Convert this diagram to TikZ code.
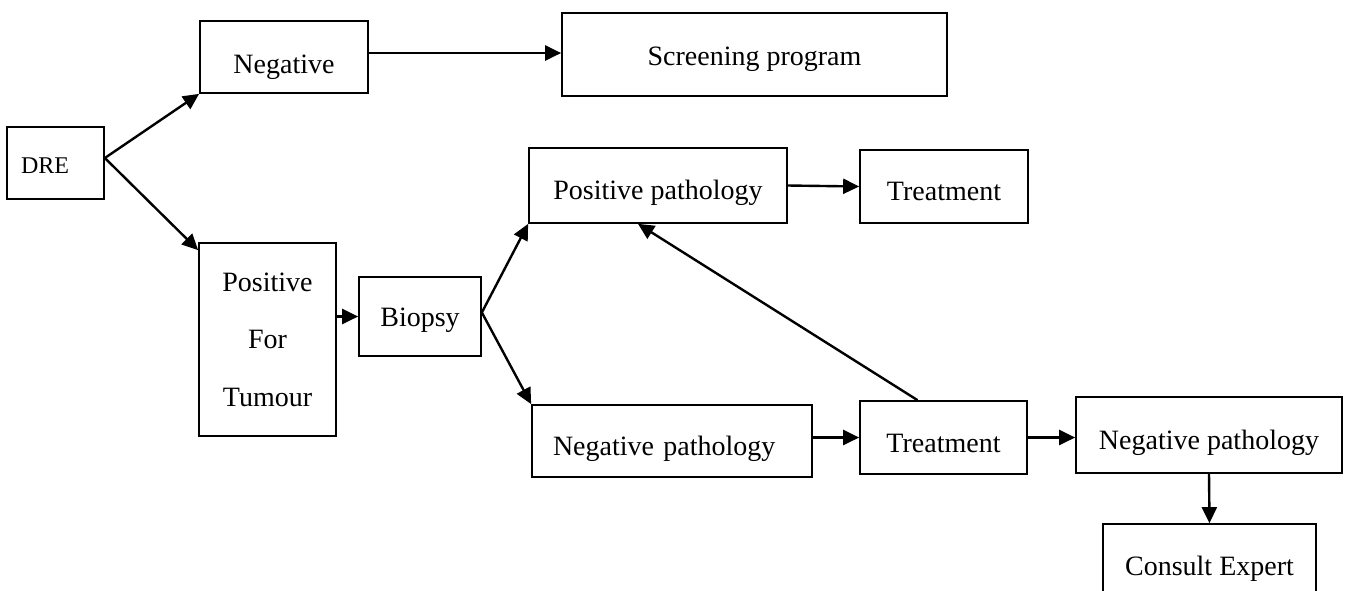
\documentclass[tikz,border=0pt]{standalone}
\usepackage{fontspec}
\setmainfont{Liberation Serif}
\usetikzlibrary{arrows.meta,calc}
\begin{document}
\begin{tikzpicture}[x=1pt,y=-1pt,
  frame/.style={draw, line width=1.7pt, inner sep=0pt,
    font=\fontsize{28}{34}\selectfont},
  box/.style={frame, text depth=8pt, text height=#1},
  box/.default=36pt,
  flow/.style={line width=2.4pt, -{Triangle[length=16pt,width=15pt]}}]
\useasboundingbox (0,0) rectangle (1347,590);
\clip (0,0) rectangle (1347,590);

% boxes
\node[box=28pt, font=\fontsize{24}{29}\selectfont, inner xsep=14pt,
      text width=69pt, align=left, minimum height=72pt] (dre) at (55.5,163) {DRE};
\node[box=40pt, minimum width=168pt, minimum height=72pt] (neg) at (284,57) {Negative};
\node[box=29pt, minimum width=385pt, minimum height=83pt] (screen) at (754.5,54.5) {Screening program};
\node[frame, align=center, font=\fontsize{28}{57.5}\selectfont,
      minimum width=137pt, minimum height=193pt] (pos) at (267.5,339.5) {Positive\\For\\Tumour};
\node[box=28.4pt, minimum width=122pt, minimum height=79pt] (bio) at (420,316.5) {Biopsy};
\node[box=35.6pt, minimum width=258pt, minimum height=75pt] (pospath) at (658,185.5) {Positive pathology};
\node[box=36pt, minimum width=168pt, minimum height=73pt] (treat1) at (944,186.5) {Treatment};
\node[box=37.4pt, inner xsep=21pt, text width=238pt, align=left,
      minimum height=72pt] (negpath) at (672,441) {Negative pathology};
\node[box=37pt, minimum width=167pt, minimum height=73pt] (treat2) at (943.5,437.5) {Treatment};
\node[box=36pt, minimum width=266pt, minimum height=76pt] (npr) at (1209,435) {Negative pathology};
\node[box=39.4pt, minimum width=213pt, minimum height=72pt] (consult) at (1209.5,560) {Consult Expert};

% connectors
\coordinate (split) at ($(dre.east)+(0,-5)$);
\draw[flow] (split) -- (neg.south west);
\draw[flow] (split) -- ($(pos.north west)+(0,8)$);
\draw[flow] ($(neg.east)+(0,-4)$) -- ($(neg.east -| screen.west)+(0,-4)$);
\draw[flow] (pos.east |- bio.west) -- (bio.west);
\coordinate (fork) at ($(bio.east)+(0,-4)$);
\draw[flow] (fork) -- (pospath.south west);
\draw[flow] (fork) -- (negpath.north west);
\draw[flow] (pospath.east) -- (treat1.west);
\draw[flow] (treat2.west -| negpath.east) -- (treat2.west);
\draw[flow] ($(treat2.north)+(-26,0)$) -- ($(pospath.south)+(-20,0)$);
\draw[flow] (treat2.east) -- (treat2.east -| npr.west);
\draw[flow] (npr.south) -- (consult.north);
\end{tikzpicture}
\end{document}
